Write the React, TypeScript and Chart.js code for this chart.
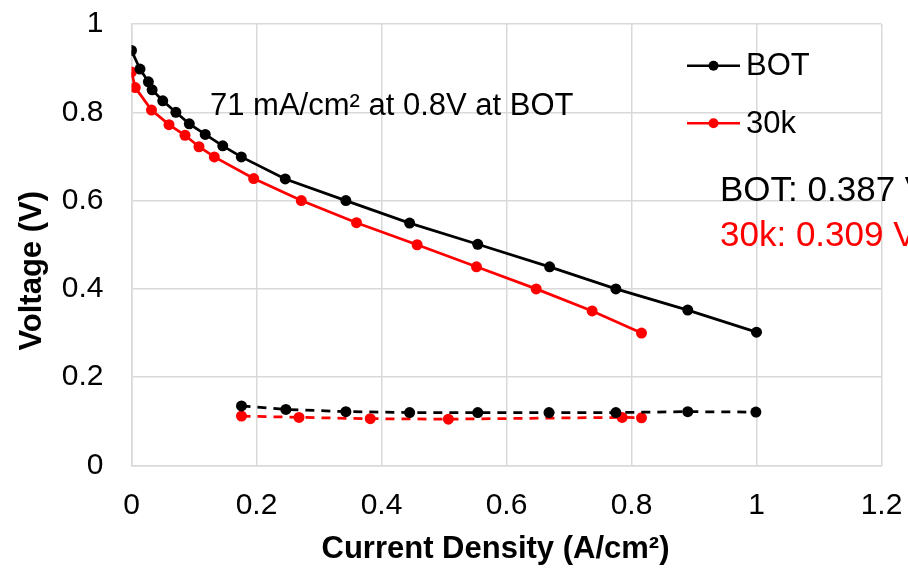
import React, { useEffect, useRef } from "react";
import { Chart, registerables } from "chart.js";

Chart.register(...registerables);

const FONT = "'Liberation Sans', Arial, sans-serif";

// Polarization curves
const botCurrent = [0, 0.0136, 0.027, 0.033, 0.05, 0.071, 0.0925, 0.118, 0.146, 0.1757, 0.246, 0.343, 0.445, 0.554, 0.669, 0.775, 0.89, 1.0];
const botVoltage = [0.94, 0.898, 0.869, 0.851, 0.826, 0.8, 0.774, 0.75, 0.724, 0.699, 0.649, 0.6, 0.549, 0.501, 0.45, 0.4, 0.352, 0.302];
const k30Current = [0, 0.006, 0.032, 0.06, 0.0856, 0.108, 0.1325, 0.1955, 0.2717, 0.36, 0.457, 0.552, 0.6475, 0.737, 0.816];
const k30Voltage = [0.891, 0.856, 0.805, 0.772, 0.748, 0.722, 0.699, 0.65, 0.6, 0.55, 0.5, 0.45, 0.4, 0.35, 0.3];

// HFR (dashed)
const botHfrCurrent = [0.176, 0.247, 0.343, 0.445, 0.554, 0.668, 0.775, 0.89, 0.999];
const botHfrValue = [0.135, 0.127, 0.122, 0.12, 0.12, 0.12, 0.12, 0.122, 0.121];
const k30HfrCurrent = [0.176, 0.268, 0.382, 0.507, 0.785, 0.816];
const k30HfrValue = [0.112, 0.109, 0.106, 0.105, 0.109, 0.108];

const xTickValues = [0, 0.2, 0.4, 0.6, 0.8, 1, 1.2];
const yTickValues = [0, 0.2, 0.4, 0.6, 0.8, 1];

const seriesNames = ["BOT", "30k"];
const seriesColors = ["#000000", "#FF0000"];

const xTitle = "Current Density (A/cm²)";
const yTitle = "Voltage (V)";
const noteText = "71 mA/cm² at 0.8V at BOT";
const hfrNotes = ["BOT: 0.387 V", "30k: 0.309 V"];

const pts = (xs: number[], ys: number[]) => xs.map((x, i) => ({ x, y: ys[i] }));

const clearPad = (s: any) => {
  s.paddingTop = 0;
  s.paddingBottom = 0;
  s.paddingLeft = 0;
  s.paddingRight = 0;
};

export default function App() {
  const ref = useRef<HTMLCanvasElement | null>(null);

  useEffect(() => {
    document.body.style.margin = "0";
    const canvas = ref.current!;
    const overlay = {
      id: "overlay",
      afterDraw(chart: any) {
        const ctx = chart.ctx as CanvasRenderingContext2D;
        const xs = chart.scales.x;
        const ys = chart.scales.y;
        const px = (v: number) => xs.getPixelForValue(v);
        const py = (v: number) => ys.getPixelForValue(v);
        ctx.save();
        // axis titles
        ctx.fillStyle = "#000";
        ctx.font = `bold 31px ${FONT}`;
        ctx.textAlign = "center";
        ctx.textBaseline = "alphabetic";
        ctx.fillText(xTitle, (chart.chartArea.left + chart.chartArea.right) / 2 - 11, 558);
        ctx.save();
        ctx.translate(41, (chart.chartArea.top + chart.chartArea.bottom) / 2 + 26);
        ctx.rotate(-Math.PI / 2);
        ctx.fillText(yTitle, 0, 0);
        ctx.restore();

        // note
        ctx.textAlign = "left";
        ctx.font = `31px ${FONT}`;
        ctx.fillText(noteText, px(0.1256), py(0.794));

        // HFR values
        ctx.font = `35px ${FONT}`;
        ctx.fillStyle = seriesColors[0];
        ctx.fillText(hfrNotes[0], px(0.9416), py(0.6));
        ctx.fillStyle = seriesColors[1];
        ctx.fillText(hfrNotes[1], px(0.9416), py(0.498));

        // legend
        const legendY = [0.9056, 0.775];
        ctx.font = `31px ${FONT}`;
        ctx.textBaseline = "middle";
        seriesNames.forEach((name, i) => {
          const y = py(legendY[i]);
          ctx.strokeStyle = seriesColors[i];
          ctx.lineWidth = 2.5;
          ctx.beginPath();
          ctx.moveTo(px(0.8888), y);
          ctx.lineTo(px(0.9736), y);
          ctx.stroke();
          ctx.fillStyle = seriesColors[i];
          ctx.beginPath();
          ctx.arc(px(0.9312), y, 5, 0, Math.PI * 2);
          ctx.fill();
          ctx.fillStyle = "#000";
          ctx.fillText(name, px(0.9832), y + 1);
        });
        ctx.restore();
      },
    };

    const chart = new Chart(canvas, {
      type: "line",
      data: {
        datasets: [
          {
            label: seriesNames[0],
            data: pts(botCurrent, botVoltage),
            borderColor: seriesColors[0],
            backgroundColor: seriesColors[0],
            borderWidth: 2.75,
            pointRadius: 5.5,
            pointBorderWidth: 0,
          },
          {
            label: seriesNames[1],
            data: pts(k30Current, k30Voltage),
            borderColor: seriesColors[1],
            backgroundColor: seriesColors[1],
            borderWidth: 2.75,
            pointRadius: 5.5,
            pointBorderWidth: 0,
          },
          {
            label: seriesNames[0] + " HFR",
            data: pts(botHfrCurrent, botHfrValue),
            borderColor: seriesColors[0],
            backgroundColor: seriesColors[0],
            borderWidth: 2.75,
            borderDash: [9, 7],
            pointRadius: 5.5,
            pointBorderWidth: 0,
          },
          {
            label: seriesNames[1] + " HFR",
            data: pts(k30HfrCurrent, k30HfrValue),
            borderColor: seriesColors[1],
            backgroundColor: seriesColors[1],
            borderWidth: 2.75,
            borderDash: [9, 7],
            pointRadius: 5.5,
            pointBorderWidth: 0,
          },
        ],
      },
      options: {
        animation: false,
        responsive: false,
        devicePixelRatio: 1,
        layout: { padding: { top: 24, right: 26.5, left: 0, bottom: 0 } },
        plugins: { legend: { display: false }, tooltip: { enabled: false } },
        scales: {
          x: {
            type: "linear",
            min: 0,
            max: 1.2,
            afterBuildTicks: (s: any) => {
              s.ticks = xTickValues.map((v) => ({ value: v }));
            },
            afterFit: (s: any) => {
              s.height = 104.5;
              clearPad(s);
            },
            ticks: {
              callback: (v: any) => String(v),
              font: { family: FONT, size: 30 },
              color: "#000",
              padding: 22,
              maxRotation: 0,
              autoSkip: false,
            },
            grid: { color: "#d9d9d9", lineWidth: 1.5, drawTicks: false },
            border: { color: "#d9d9d9", width: 1.5 },
          },
          y: {
            type: "linear",
            min: 0,
            max: 1,
            afterBuildTicks: (s: any) => {
              s.ticks = yTickValues.map((v) => ({ value: v }));
            },
            afterFit: (s: any) => {
              s.width = 131.5;
              clearPad(s);
            },
            ticks: {
              callback: (v: any) => String(v),
              font: { family: FONT, size: 30 },
              color: "#000",
              padding: 28,
              autoSkip: false,
            },
            grid: { color: "#d9d9d9", lineWidth: 1.5, drawTicks: false },
            border: { color: "#d9d9d9", width: 1.5 },
          },
        },
      },
      plugins: [overlay],
    } as any);
    return () => chart.destroy();
  }, []);

  return (
    <canvas
      ref={ref}
      width={908}
      height={570}
      style={{ position: "fixed", left: 0, top: 0, display: "block" }}
    />
  );
}
